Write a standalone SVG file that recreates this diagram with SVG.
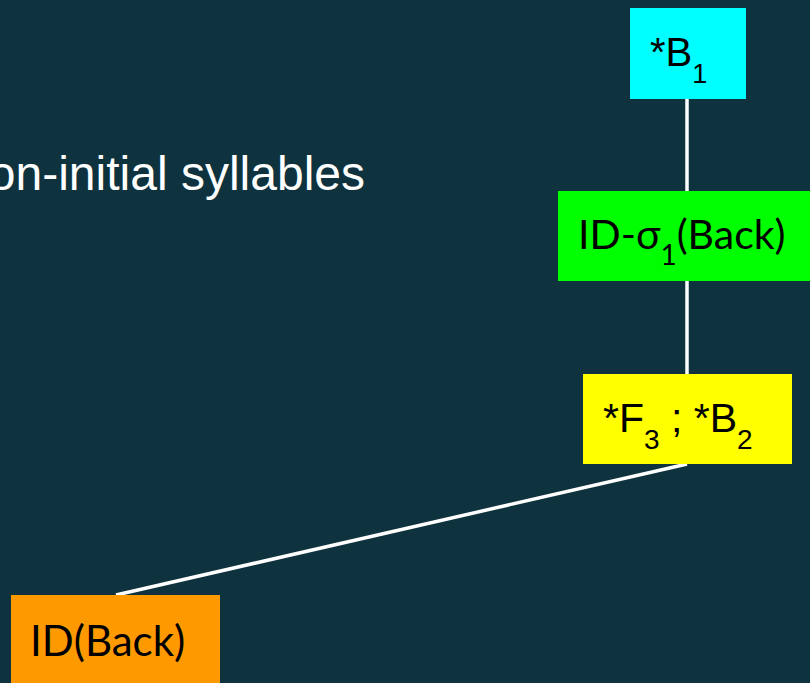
<svg xmlns="http://www.w3.org/2000/svg" width="810" height="683" viewBox="0 0 810 683">
<style>
.a{font-family:"Liberation Sans",Arial,sans-serif;fill:#000}
.l{font-family:Lato,"Liberation Sans",sans-serif;fill:#000}
.e{stroke:#fff;stroke-width:3.5;fill:none}
</style>
<rect width="810" height="683" fill="#0e333e"/>
<text x="365" y="190" class="a" style="fill:#fff" font-size="48" text-anchor="end">on-initial syllables</text>
<g id="connectors">
<line class="e" x1="687" y1="99" x2="687" y2="191"/>
<line class="e" x1="687" y1="281" x2="687" y2="374"/>
<line class="e" x1="687" y1="464" x2="116" y2="595"/>
</g>
<g id="n1">
<rect x="630" y="8" width="116" height="91" fill="#00ffff"/>
<text x="650" y="66" class="a" font-size="40">*B<tspan font-size="27" dy="17">1</tspan></text>
</g>
<g id="n2">
<rect x="558" y="191" width="252" height="90" fill="#00ff00"/>
<text x="578" y="249" class="l" font-size="41">ID-σ<tspan font-size="28" dy="16">1</tspan><tspan dy="-16">(Back)</tspan></text>
</g>
<g id="n3">
<rect x="583" y="374" width="209" height="90" fill="#ffff00"/>
<text x="603" y="432" class="a" font-size="41">*F<tspan font-size="28" dy="17">3</tspan><tspan dy="-17"> ; *B</tspan><tspan font-size="28" dy="17">2</tspan></text>
</g>
<g id="n4">
<rect x="11" y="595" width="209" height="88" fill="#ff9900"/>
<text x="30" y="656" class="l" font-size="42">ID(Back)</text>
</g>
</svg>
